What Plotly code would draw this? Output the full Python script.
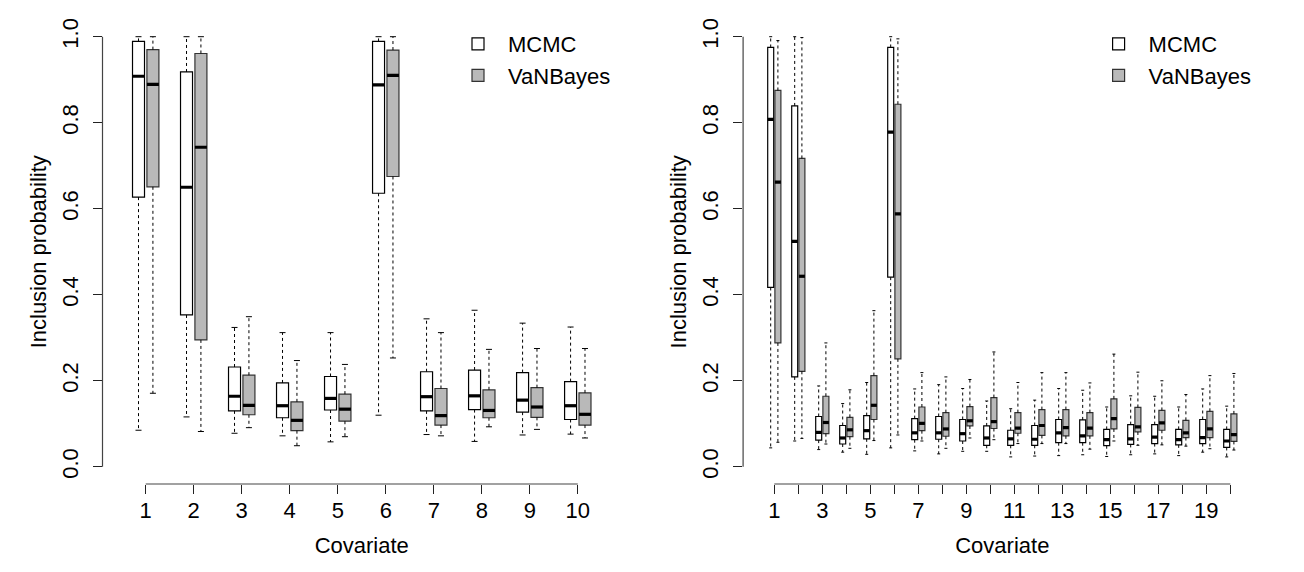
import plotly.graph_objects as go

# covariate indices
cov_left = list(range(1, 11))
cov_right = list(range(1, 21))

# left panel (10 covariates): whisker low, Q1, median, Q3, whisker high
mcmc_l_lo = [0.085, 0.116, 0.078, 0.072, 0.058, 0.120, 0.075, 0.059, 0.074, 0.076]
mcmc_l_q1 = [0.627, 0.353, 0.130, 0.114, 0.132, 0.636, 0.130, 0.133, 0.127, 0.110]
mcmc_l_med = [0.908, 0.650, 0.164, 0.142, 0.159, 0.888, 0.163, 0.165, 0.155, 0.142]
mcmc_l_q3 = [0.989, 0.918, 0.232, 0.195, 0.210, 0.989, 0.221, 0.225, 0.219, 0.198]
mcmc_l_hi = [1.0, 1.0, 0.324, 0.312, 0.312, 1.0, 0.344, 0.364, 0.334, 0.325]

van_l_lo = [0.171, 0.082, 0.091, 0.049, 0.070, 0.253, 0.072, 0.093, 0.087, 0.067]
van_l_q1 = [0.651, 0.295, 0.121, 0.084, 0.106, 0.675, 0.097, 0.114, 0.115, 0.097]
van_l_med = [0.889, 0.743, 0.143, 0.108, 0.134, 0.910, 0.119, 0.131, 0.139, 0.122]
van_l_q3 = [0.970, 0.961, 0.213, 0.151, 0.169, 0.969, 0.182, 0.179, 0.184, 0.172]
van_l_hi = [1.0, 1.0, 0.349, 0.247, 0.238, 1.0, 0.312, 0.273, 0.275, 0.275]

# right panel (20 covariates)
mcmc_r_lo = [0.044, 0.060, 0.040, 0.034, 0.029, 0.044, 0.037, 0.030, 0.036, 0.036,
             0.023, 0.025, 0.026, 0.028, 0.024, 0.028, 0.030, 0.026, 0.034, 0.023]
mcmc_r_q1 = [0.417, 0.209, 0.062, 0.053, 0.065, 0.441, 0.063, 0.064, 0.060, 0.050,
             0.050, 0.050, 0.056, 0.056, 0.049, 0.052, 0.054, 0.051, 0.054, 0.045]
mcmc_r_med = [0.808, 0.524, 0.080, 0.067, 0.084, 0.778, 0.079, 0.079, 0.077, 0.067,
              0.065, 0.064, 0.079, 0.072, 0.063, 0.065, 0.069, 0.063, 0.068, 0.060]
mcmc_r_q3 = [0.975, 0.839, 0.117, 0.096, 0.119, 0.975, 0.112, 0.117, 0.110, 0.095,
             0.085, 0.096, 0.110, 0.109, 0.087, 0.098, 0.098, 0.087, 0.110, 0.087]
mcmc_r_hi = [1.0, 1.0, 0.188, 0.147, 0.196, 1.0, 0.181, 0.191, 0.182, 0.153,
             0.135, 0.155, 0.182, 0.178, 0.139, 0.165, 0.164, 0.139, 0.181, 0.141]

van_r_lo = [0.057, 0.066, 0.053, 0.043, 0.061, 0.074, 0.060, 0.043, 0.067, 0.063,
            0.054, 0.054, 0.054, 0.041, 0.060, 0.050, 0.051, 0.048, 0.042, 0.039]
van_r_q1 = [0.288, 0.222, 0.077, 0.070, 0.110, 0.251, 0.084, 0.071, 0.095, 0.089,
            0.078, 0.073, 0.072, 0.072, 0.088, 0.081, 0.085, 0.068, 0.068, 0.059]
van_r_med = [0.662, 0.443, 0.103, 0.086, 0.143, 0.588, 0.101, 0.088, 0.107, 0.105,
             0.090, 0.096, 0.091, 0.090, 0.112, 0.093, 0.102, 0.079, 0.088, 0.075]
van_r_q3 = [0.875, 0.717, 0.164, 0.115, 0.212, 0.843, 0.139, 0.126, 0.140, 0.161,
            0.126, 0.133, 0.133, 0.126, 0.158, 0.138, 0.131, 0.108, 0.129, 0.123]
van_r_hi = [0.991, 0.998, 0.288, 0.179, 0.363, 0.995, 0.219, 0.209, 0.203, 0.267,
            0.196, 0.219, 0.219, 0.195, 0.262, 0.220, 0.200, 0.168, 0.212, 0.217]

y_ticks = [0.0, 0.2, 0.4, 0.6, 0.8, 1.0]

FONT = "Liberation Sans, Arial, Helvetica, sans-serif"
GRAY = "#B9B9B9"
OFFSET = 0.15   # box shift either side of the covariate
BOXW = 0.25     # box width
STAPLE = BOXW / 4


def segs(xs, y0s, y1s, dx0=0.0, dx1=0.0):
    xx, yy = [], []
    for x, a, b in zip(xs, y0s, y1s):
        xx += [x + dx0, x + dx1, None]
        yy += [a, b, None]
    return xx, yy


def add_boxes(fig, cov, lo, q1, med, q3, hi, shift, name, fill, edge, xa, ya, leg):
    pos = [c + shift for c in cov]
    # whiskers (dashed)
    wx, wy = segs(pos + pos, q3 + q1, hi + lo)
    fig.add_trace(go.Scatter(x=wx, y=wy, mode="lines", xaxis=xa, yaxis=ya,
                             line=dict(color="black", width=1, dash="3px,3px"),
                             showlegend=False, hoverinfo="skip"))
    # staples
    sx, sy = segs(pos + pos, hi + lo, hi + lo, -STAPLE, STAPLE)
    fig.add_trace(go.Scatter(x=sx, y=sy, mode="lines", xaxis=xa, yaxis=ya,
                             line=dict(color="black", width=1),
                             showlegend=False, hoverinfo="skip"))
    # box body
    fig.add_trace(go.Bar(x=pos, y=[b - a for a, b in zip(q1, q3)], base=q1,
                         width=BOXW, name=name, xaxis=xa, yaxis=ya, legend=leg,
                         marker=dict(color=fill, line=dict(color=edge, width=1.2)),
                         customdata=list(zip(cov, q1, med, q3)),
                         hovertemplate=name + " cov %{customdata[0]}<br>Q1 %{customdata[1]}"
                                       "<br>median %{customdata[2]}<br>Q3 %{customdata[3]}<extra></extra>"))
    # median
    mx, my = segs(pos, med, med, -BOXW / 2, BOXW / 2)
    fig.add_trace(go.Scatter(x=mx, y=my, mode="lines", xaxis=xa, yaxis=ya,
                             line=dict(color="black", width=3.2),
                             showlegend=False, hoverinfo="skip"))


fig = go.Figure()

add_boxes(fig, cov_left, mcmc_l_lo, mcmc_l_q1, mcmc_l_med, mcmc_l_q3, mcmc_l_hi,
          -OFFSET, "MCMC", "white", "black", "x", "y", "legend")
add_boxes(fig, cov_left, van_l_lo, van_l_q1, van_l_med, van_l_q3, van_l_hi,
          OFFSET, "VaNBayes", GRAY, "#333333", "x", "y", "legend")
add_boxes(fig, cov_right, mcmc_r_lo, mcmc_r_q1, mcmc_r_med, mcmc_r_q3, mcmc_r_hi,
          -OFFSET, "MCMC", "white", "black", "x2", "y2", "legend2")
add_boxes(fig, cov_right, van_r_lo, van_r_q1, van_r_med, van_r_q3, van_r_hi,
          OFFSET, "VaNBayes", GRAY, "#333333", "x2", "y2", "legend2")

# page body has an 8px margin, so the figure is 8px smaller than the window
W, H = 1296, 564
ydom = [(H - 476) / H, (H - 11.5) / H]
tickfont = dict(family=FONT, size=22, color="black")

xcommon = dict(ticks="outside", ticklen=9, tickwidth=1, tickcolor="#222222",
               showgrid=False, zeroline=False, showline=False, tickfont=tickfont,
               ticklabelstandoff=-2, automargin=False,
               title=dict(text="Covariate", font=tickfont, standoff=15))
ycommon = dict(ticks="outside", ticklen=9, tickwidth=1, tickcolor="#222222",
               showgrid=False, zeroline=False, showline=False, tickfont=tickfont,
               ticklabelstandoff=6,
               range=[-0.04, 1.04], tickvals=y_ticks, ticktext=[f"{v:.1f}" for v in y_ticks],
               tickangle=-90, automargin=False, domain=ydom,
               title=dict(text="Inclusion probability", font=tickfont, standoff=5))

legcommon = dict(y=1 - 15 / H, xanchor="left", yanchor="top", itemwidth=50,
                 font=tickfont, bgcolor="rgba(0,0,0,0)", traceorder="normal")

fig.update_layout(
    width=W, height=H,
    margin=dict(l=0, r=0, t=0, b=0),
    paper_bgcolor="white", plot_bgcolor="white",
    barmode="overlay",
    font=dict(family=FONT, size=22, color="black"),
    xaxis=dict(xcommon, domain=[94.5 / W, 613 / W], range=[0.1, 10.9],
               tickvals=cov_left, ticktext=[str(c) for c in cov_left]),
    yaxis=dict(ycommon, anchor="x"),
    xaxis2=dict(xcommon, domain=[735.1 / W, 1253.5 / W], range=[-0.3, 21.3],
                tickvals=cov_right, ticktext=[str(c) if c % 2 else "" for c in cov_right],
                anchor="y2"),
    yaxis2=dict(ycommon, anchor="x2"),
    legend=dict(legcommon, x=440 / W),
    legend2=dict(legcommon, x=(440 + 640.6) / W),
    showlegend=True,
)

# R-style axis lines spanning only the tick range
for xa, ya, cov in [("x", "y", cov_left), ("x2", "y2", cov_right)]:
    fig.add_shape(type="line", xref=xa, yref=ya + " domain", x0=min(cov), x1=max(cov),
                  y0=0, y1=0, line=dict(color="#444444", width=1.2))
    fig.add_shape(type="line", xref=xa + " domain", yref=ya, x0=0, x1=0,
                  y0=min(y_ticks), y1=max(y_ticks), line=dict(color="#444444", width=1.2))

fig.write_html("out.html")
